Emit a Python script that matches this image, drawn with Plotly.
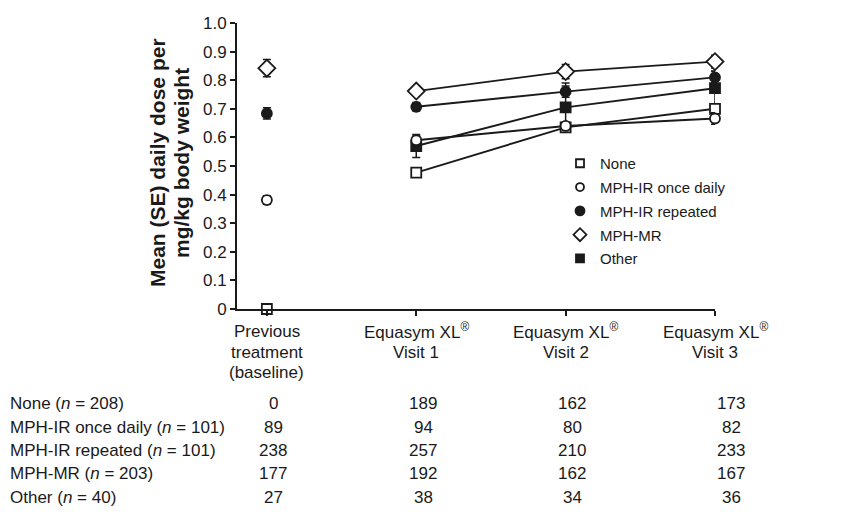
import plotly.graph_objects as go

W, H = 857, 515
L, R, T, B = 237, 715, 23, 309  # plot area pixels

# ---- data ----
cat_x = [0, 1, 2, 3]
cat_lines = [["Previous", "treatment", "(baseline)"],
             ["Equasym XL<sup>®</sup>", "Visit 1"],
             ["Equasym XL<sup>®</sup>", "Visit 2"],
             ["Equasym XL<sup>®</sup>", "Visit 3"]]
series_names = ["None", "MPH-IR once daily", "MPH-IR repeated", "MPH-MR", "Other"]
none_mean = [0.0, 0.477, 0.635, 0.700]
none_se = [0.0, 0.010, 0.012, 0.012]
once_mean = [0.381, 0.590, 0.640, 0.666]
once_se = [0.015, 0.015, 0.012, 0.020]
rep_mean = [0.684, 0.707, 0.760, 0.810]
rep_se = [0.020, 0.015, 0.020, 0.020]
mr_mean = [0.842, 0.762, 0.830, 0.865]
mr_se = [0.030, 0.015, 0.025, 0.022]
other_mean = [None, 0.570, 0.705, 0.772]
other_se = [0.0, 0.040, 0.085, 0.060]

row_labels = ["None (<i>n</i> = 208)", "MPH-IR once daily (<i>n</i> = 101)",
              "MPH-IR repeated (<i>n</i> = 101)", "MPH-MR (<i>n</i> = 203)",
              "Other (<i>n</i> = 40)"]
n_none = [0, 189, 162, 173]
n_once = [89, 94, 80, 82]
n_rep = [238, 257, 210, 233]
n_mr = [177, 192, 162, 167]
n_other = [27, 38, 34, 36]

y_ticks = [0, 0.1, 0.2, 0.3, 0.4, 0.5, 0.6, 0.7, 0.8, 0.9, 1.0]
y_ticktext = ["0", "0.1", "0.2", "0.3", "0.4", "0.5", "0.6", "0.7", "0.8", "0.9", "1.0"]
y_title_lines = ["Mean (SE) daily dose per", "mg/kg body weight"]

FONT = "Liberation Sans, Arial, sans-serif"
INK = "#1a1a1a"

def px2x(px):
    return (px - L) / (R - L)

def py2y(py):
    return (B - py) / (B - T)

means = [none_mean, once_mean, rep_mean, mr_mean, other_mean]
ses = [none_se, once_se, rep_se, mr_se, other_se]
symbols = ["square-open", "circle-open", "circle", "diamond-open", "square"]
sizes = [10, 10, 10, 13, 10]
legend_sizes = [8, 8, 9, 10, 8]
draw_order = [4, 0, 1, 2, 3]

def marker_style(i, size):
    filled = symbols[i] in ("circle", "square")
    return dict(symbol=symbols[i].replace("-open", ""), size=size,
                color=INK if filled else "white",
                line=dict(color=INK, width=1.8))

fig = go.Figure()

# connecting lines (visits only)
for i in draw_order:
    fig.add_trace(go.Scatter(
        x=cat_x[1:], y=means[i][1:], mode="lines",
        line=dict(color=INK, width=1.9), showlegend=False,
        hoverinfo="skip", cliponaxis=False))

# markers with SE error bars
for i in draw_order:
    fig.add_trace(go.Scatter(
        x=cat_x, y=means[i], mode="markers", name=series_names[i],
        showlegend=False, marker=marker_style(i, sizes[i]),
        error_y=dict(type="data", array=ses[i], visible=True,
                     color=INK, thickness=1.5, width=4),
        cliponaxis=False))

# legend entries (smaller symbols as in the reference)
for i in range(len(series_names)):
    fig.add_trace(go.Scatter(
        x=[None], y=[None], mode="markers", name=series_names[i],
        legendgroup="g%d" % i, marker=marker_style(i, legend_sizes[i]),
        showlegend=True, hoverinfo="skip"))

anns = []
# y-axis title (two lines)
for k, (t, xp) in enumerate(zip(y_title_lines, [157, 181])):
    anns.append(dict(text="<b>%s</b>" % t,
                     xref="paper", yref="paper", x=px2x(xp), y=py2y(163),
                     textangle=-90, showarrow=False, xanchor="center", yanchor="middle",
                     font=dict(family=FONT, size=21, color=INK)))
# category labels
line_y = [331, 352, 372]
for cx, lines in zip(cat_x, cat_lines):
    for k, t in enumerate(lines):
        anns.append(dict(text=t, xref="x", yref="paper", x=cx, y=py2y(line_y[k]),
                         showarrow=False, xanchor="center", yanchor="middle",
                         font=dict(family=FONT, size=17, color=INK)))
# table
row_y = [403, 427, 450, 473, 497]
col_px = [273, 423, 572, 731]
table = [n_none, n_once, n_rep, n_mr, n_other]
for r, (lab, vals) in enumerate(zip(row_labels, table)):
    anns.append(dict(text=lab, xref="paper", yref="paper", x=px2x(8), y=py2y(row_y[r]),
                     showarrow=False, xanchor="left", yanchor="middle",
                     font=dict(family=FONT, size=17, color=INK)))
    for c, v in enumerate(vals):
        anns.append(dict(text=str(v), xref="paper", yref="paper", x=px2x(col_px[c]),
                         y=py2y(row_y[r]), showarrow=False, xanchor="center",
                         yanchor="middle", font=dict(family=FONT, size=17, color=INK)))

fig.update_layout(
    width=W, height=H,
    margin=dict(l=L, r=W - R, t=T, b=H - B, pad=0),
    paper_bgcolor="white", plot_bgcolor="white",
    font=dict(family=FONT, size=15, color=INK),
    showlegend=True,
    legend=dict(x=px2x(560), y=py2y(147), xanchor="left", yanchor="top",
                bgcolor="rgba(0,0,0,0)", font=dict(family=FONT, size=15, color=INK),
                itemwidth=30, traceorder="grouped", tracegroupgap=1.3),
    xaxis=dict(range=[-0.2, 3], tickvals=cat_x, showticklabels=False,
               ticks="outside", ticklen=5, tickwidth=1.5, tickcolor=INK,
               showline=True, linecolor=INK, linewidth=1.8, showgrid=False,
               zeroline=False, fixedrange=True),
    yaxis=dict(range=[0, 1.0], tickvals=y_ticks, ticktext=y_ticktext,
               ticks="outside", ticklen=5, tickwidth=1.5, tickcolor=INK,
               showline=True, linecolor=INK, linewidth=1.8, showgrid=False,
               zeroline=False, tickfont=dict(family=FONT, size=17, color=INK),
               fixedrange=True),
    annotations=anns,
)

fig.write_html("out.html")
